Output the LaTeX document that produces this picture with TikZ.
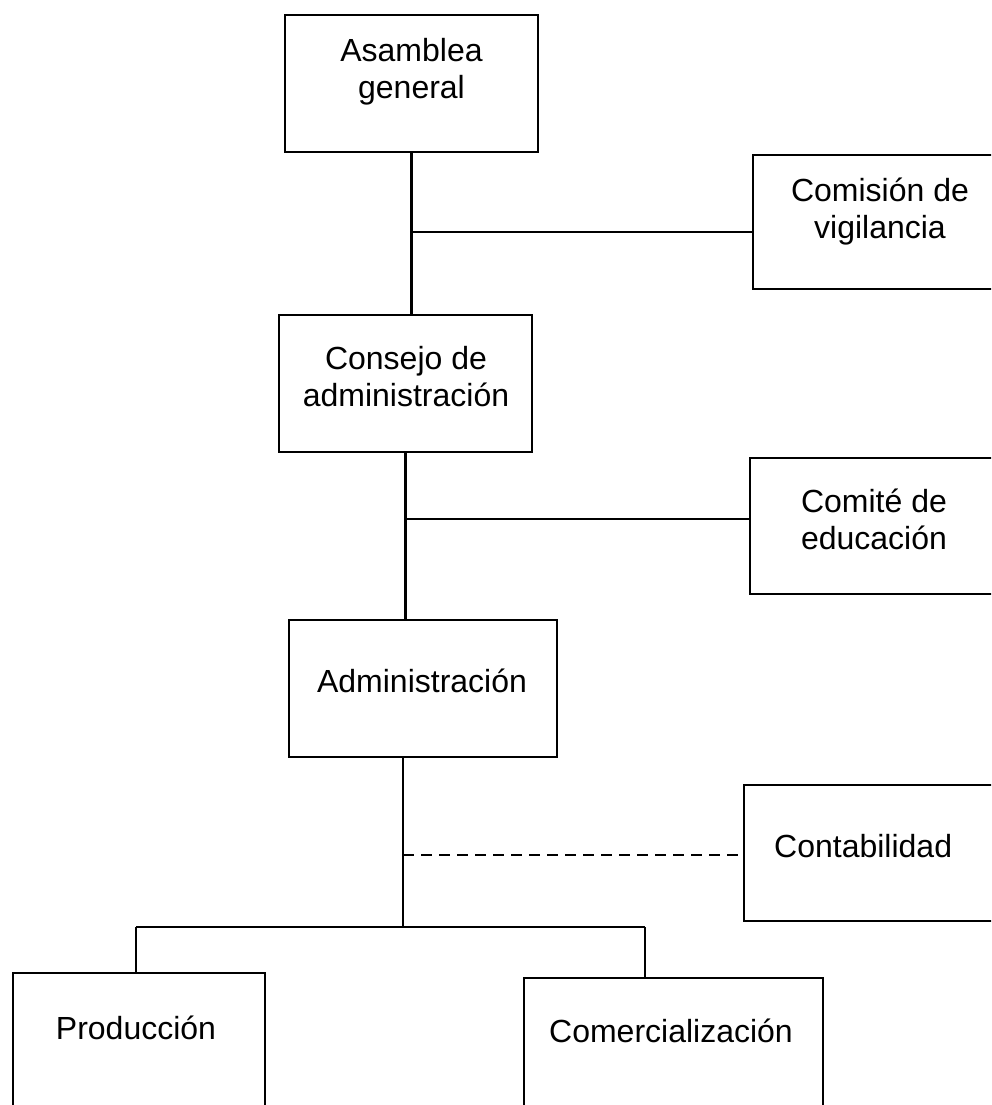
\documentclass[tikz,border=0pt]{standalone}
\usepackage{fontspec}
\setmainfont{Liberation Sans}
\begin{document}
\begin{tikzpicture}[x=1pt,y=-1pt,line width=2.4pt,
  box/.style={draw,line width=2.6pt,rectangle,inner sep=0pt},
  lbl/.style={font=\fontsize{32}{37}\selectfont,align=center,inner sep=0pt},
  dashline/.style={dash pattern=on 11pt off 7pt}]
\useasboundingbox (0,0) rectangle (991,1105);
\clip (0,0) rectangle (991,1105);
% boxes
\node[box,minimum width=253pt,minimum height=137pt] (A) at (411.5,83.5) {};
\node[box,minimum width=254pt,minimum height=134pt] (V) at (880,222) {};
\node[box,minimum width=253pt,minimum height=137pt] (C) at (405.5,383.5) {};
\node[box,minimum width=248pt,minimum height=136pt] (E) at (874,526) {};
\node[box,minimum width=268pt,minimum height=137pt] (D) at (423,688.5) {};
\node[box,minimum width=256pt,minimum height=136pt] (K) at (872,853) {};
\node[box,minimum width=252pt,minimum height=142pt] (P) at (139,1044) {};
\node[box,minimum width=299pt,minimum height=142pt] (M) at (673.5,1049) {};
% labels
\node[lbl] (At) at (411.5,72) {Asamblea\\general};
\node[lbl] (Vt) at (880,212) {Comisión de\\vigilancia};
\node[lbl] (Ct) at (406,377) {Consejo de\\administración};
\node[lbl] (Et) at (874,519) {Comité de\\educación};
\node[lbl] (Dt) at (422,681) {Administración};
\node[lbl,anchor=west] (Kt) at (773,846) {Contabilidad};
\node[lbl] (Pt) at (136,1028) {Producción};
\node[lbl] (Mt) at (671,1031) {Comercialización};
% connectors
\draw (A.south) -- (A.south |- C.north);
\coordinate (j1) at (A.south |- 0,232);
\draw (j1) -- (j1 -| V.west);
\draw (C.south) -- (C.south |- D.north);
\coordinate (j2) at (C.south |- 0,519);
\draw (j2) -- (j2 -| E.west);
\coordinate (d1) at ([xshift=-20pt]D.south);
\coordinate (bus) at (d1 |- 0,927);
\draw (d1) -- (bus);
\coordinate (j3) at (d1 |- 0,855);
\draw[dashline] (j3) -- (j3 -| K.west);
\coordinate (pl) at (136,927);
\coordinate (ml) at (645,927);
\draw (pl) -- (ml);
\draw (pl) -- (pl |- P.north);
\draw (ml) -- (ml |- M.north);
\end{tikzpicture}
\end{document}
